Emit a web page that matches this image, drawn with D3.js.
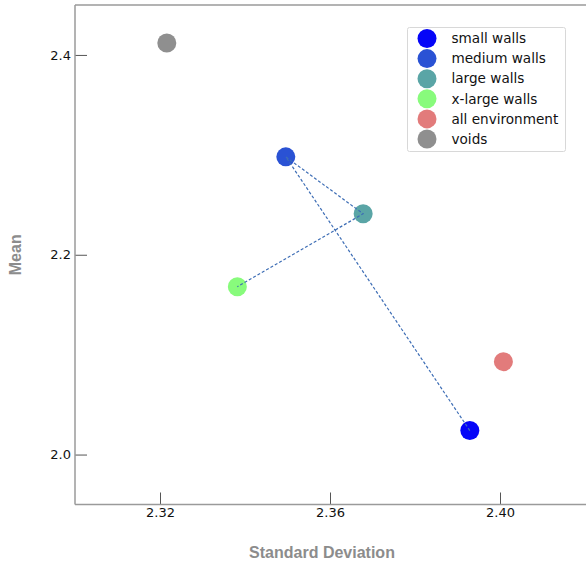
<!DOCTYPE html>
<html>
<head>
<meta charset="utf-8">
<script src="https://cdn.jsdelivr.net/npm/d3@7"></script>
<style>
  html, body { margin: 0; padding: 0; background: #fff; }
  svg { display: block; }
</style>
</head>
<body>
<svg id="chart" width="586" height="562"></svg>
<script>
// Mean vs. standard deviation per region type
const names = ["small walls", "medium walls", "large walls", "x-large walls", "all environment", "voids"];
const stdDev = [2.3929, 2.3496, 2.3678, 2.3382, 2.4008, 2.3216];
const means  = [2.024, 2.298, 2.241, 2.168, 2.093, 2.412];
const colors = ["#0505f8", "#2a52d4", "#5aa5a6", "#88fb7c", "#e27b7b", "#8f8f8f"];
// Dashed path through the wall sizes
const pathOrder = ["small walls", "medium walls", "large walls", "x-large walls"];
const xTicks = [2.32, 2.36, 2.40];
const yTicks = [2.0, 2.2, 2.4];

const svg = d3.select("#chart");
const W = 586, H = 562;
const plotLeft = 75, plotTop = 5, plotBottom = 504.5;
const x = d3.scaleLinear().domain([2.30, 2.43]).range([plotLeft, plotLeft + 0.13 * 4250]);
const y = d3.scaleLinear().domain([1.95, 2.45]).range([plotBottom, plotTop]);

const spine = "#9a9a9a";

// Axes with inward ticks
const gx = svg.append("g").attr("transform", `translate(0,${plotBottom})`)
  .call(d3.axisBottom(x).tickValues(xTicks).tickFormat(d3.format(".2f")).tickSizeInner(-12).tickSizeOuter(0).tickPadding(3));
const gy = svg.append("g").attr("transform", `translate(${plotLeft},0)`)
  .call(d3.axisLeft(y).tickValues(yTicks).tickFormat(d3.format(".1f")).tickSizeInner(-12).tickSizeOuter(0).tickPadding(4));
[gx, gy].forEach(g => {
  g.select(".domain").remove();
  g.selectAll(".tick line").attr("stroke", "#555").attr("stroke-width", 1);
  g.selectAll(".tick text").attr("fill", "#111").attr("font-family", "DejaVu Sans").attr("font-size", 13);
});
gy.selectAll(".tick text").attr("dy", "0.32em").attr("x", -4);

// Spines: left, top, bottom
svg.append("line").attr("x1", plotLeft).attr("x2", plotLeft).attr("y1", plotTop).attr("y2", plotBottom)
  .attr("stroke", spine).attr("stroke-width", 1.5);
svg.append("line").attr("x1", plotLeft).attr("x2", W + 10).attr("y1", plotTop).attr("y2", plotTop)
  .attr("stroke", spine).attr("stroke-width", 1.5);
svg.append("line").attr("x1", plotLeft).attr("x2", W + 10).attr("y1", plotBottom).attr("y2", plotBottom)
  .attr("stroke", spine).attr("stroke-width", 1.5);

// Axis titles
svg.append("text").attr("x", 322).attr("y", 558).attr("text-anchor", "middle")
  .attr("font-family", "Liberation Sans, Arial, sans-serif").attr("font-weight", "bold")
  .attr("font-size", 16).attr("fill", "#8c8c8c").text("Standard Deviation");
svg.append("text").attr("transform", `translate(21,${(plotTop + plotBottom) / 2}) rotate(-90)`)
  .attr("text-anchor", "middle")
  .attr("font-family", "Liberation Sans, Arial, sans-serif").attr("font-weight", "bold")
  .attr("font-size", 16).attr("fill", "#8c8c8c").text("Mean");

const data = names.map((n, i) => ({ name: n, sd: stdDev[i], mean: means[i], color: colors[i] }));

// Points
svg.append("g").selectAll("circle").data(data).join("circle")
  .attr("cx", d => x(d.sd)).attr("cy", d => y(d.mean)).attr("r", 9.5)
  .attr("fill", d => d.color);

// Dashed connection
const pathData = pathOrder.map(n => data.find(d => d.name === n));
svg.append("path").datum(pathData)
  .attr("d", d3.line().x(d => x(d.sd)).y(d => y(d.mean)))
  .attr("fill", "none").attr("stroke", "#3d6db5").attr("stroke-width", 1.2)
  .attr("stroke-dasharray", "3,2");

// Legend
const lg = svg.append("g");
lg.append("rect").attr("x", 407.5).attr("y", 27.5).attr("width", 158).attr("height", 124)
  .attr("rx", 2).attr("fill", "#fff").attr("stroke", "#d8d8d8");
const rows = lg.selectAll("g.row").data(data).join("g").attr("class", "row")
  .attr("transform", (d, i) => `translate(0,${38.5 + i * 20.1})`);
rows.append("circle").attr("cx", 427).attr("cy", 0).attr("r", 9.5).attr("fill", d => d.color);
rows.append("text").attr("x", 451.5).attr("y", 0).attr("dy", "0.35em")
  .attr("font-family", "DejaVu Sans").attr("font-size", 13.6).attr("fill", "#111")
  .text(d => d.name);
</script>
</body>
</html>
